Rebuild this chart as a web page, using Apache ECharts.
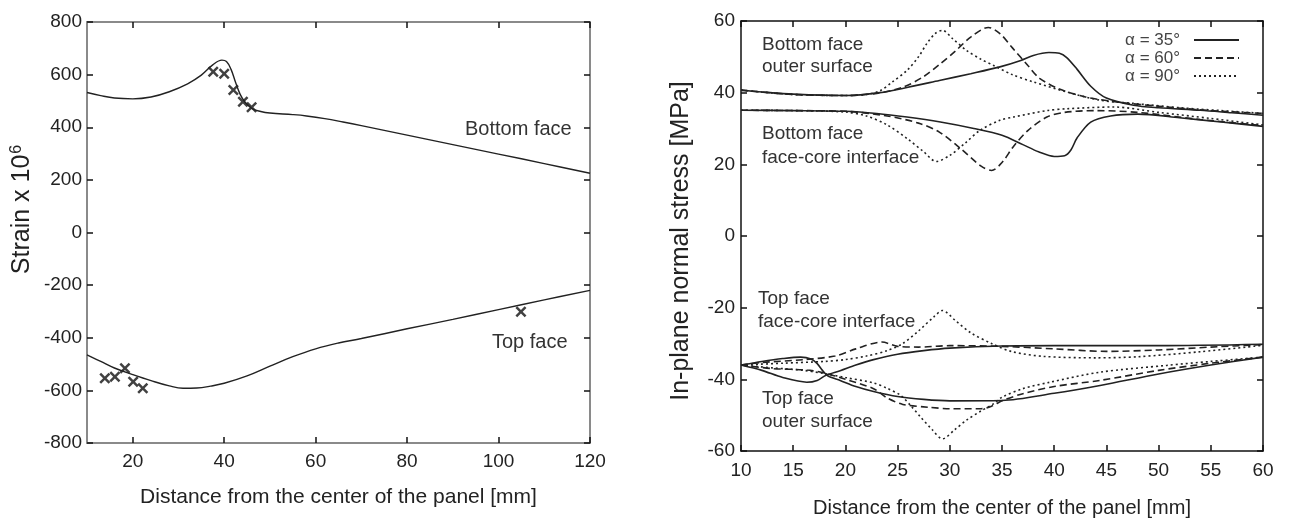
<!DOCTYPE html>
<html>
<head>
<meta charset="utf-8">
<script src="https://cdn.jsdelivr.net/npm/echarts@6/dist/echarts.min.js"></script>
<style>
  html, body { margin: 0; padding: 0; background: #fff; }
  #chart { width: 1293px; height: 524px; }
</style>
</head>
<body>
<div id="chart"></div>
<script>
// ---- left panel: strain ----
var leftXTicks = [20, 40, 60, 80, 100, 120];
var strainBottom = [[10,532],[13,520],[16,511],[20,508],[24,515],[28,535],[32,565],[35,598],[37.5,637],[39.5,655],[40.5,650],[41.5,620],[42.5,570],[43.5,525],[44.5,497],[46,472],[48,460],[50,454],[55,448],[58,443],[62,433],[66,420],[70,406],[80,370],[90,334],[100,298],[110,262],[120,225]];
var strainTop = [[10,-465],[13,-490],[16,-515],[20,-540],[24,-563],[28,-583],[31,-592],[34,-591],[37,-584],[40,-573],[45,-545],[50,-508],[55,-472],[60,-442],[65,-420],[70,-403],[80,-366],[90,-330],[100,-293],[110,-256],[120,-220]];
var measBottom = [[37.6,611],[40.0,603],[42.0,542],[44.1,497],[46.0,476]];
var measTop = [[13.9,-554],[16.1,-548],[18.3,-516],[20.1,-567],[22.2,-592],[104.9,-301]];

// ---- right panel: in-plane normal stress ----
var alphaNames = ['α = 35°', 'α = 60°', 'α = 90°'];
// bottom face, outer surface
var botOuter35 = [[10,40.7],[12,40.2],[15,39.6],[20,39.2],[23.3,40],[26,41.5],[29,43.4],[32,45.3],[34.8,47.2],[36.8,49],[38,50.4],[39.5,51.2],[40.5,51],[41.2,49.8],[42.2,46.5],[43.5,41.8],[45,38.5],[47.6,36.5],[50,35.8],[54,35.1],[57,34.4],[60,33.7]];
var botOuter60 = [[10,40.7],[15,39.5],[20,39.2],[23,39.8],[25.5,41.5],[27.5,44.5],[29.1,48.1],[30.5,51.5],[32,55.5],[33.7,58.2],[34.8,56.5],[36,52.5],[37.5,47.5],[38.6,44],[40.5,41],[43,38.8],[46,37.4],[50,36.2],[55,35],[60,34.2]];
var botOuter90 = [[10,40.7],[15,39.5],[20,39.2],[22,39.5],[23.3,40.5],[24.5,43],[25.9,46.2],[27,50],[27.8,53.7],[28.6,56.5],[29.3,57.4],[30.3,55],[31.6,51.8],[33,49.3],[34.2,47.6],[36,45],[38,43],[41.2,40.2],[44.4,37.9],[47.6,37],[52,35.8],[56,35],[60,34.2]];
// bottom face, face-core interface
var botInter35 = [[10,35.1],[15,35],[20,34.8],[23,34.2],[25.9,33.2],[29.1,31.8],[32.3,30],[35,28.1],[37,25.5],[38.5,23.5],[40,22.2],[41,22.4],[41.6,24],[42.2,27.4],[43.5,31.8],[45.4,33.5],[48,34],[52,33],[56,31.8],[60,30.6]];
var botInter60 = [[10,35.1],[15,35],[20,34.8],[24,33.5],[27,31.5],[29,29],[31,24.5],[33,19.5],[34,18.3],[35,20.5],[36.1,25],[37.5,29.5],[39.3,33.2],[41,34.5],[44,35],[48,34.5],[54,32.5],[60,30.8]];
var botInter90 = [[10,35.1],[15,35],[20,34.6],[22,33.5],[24,31],[26,27],[27.5,23.5],[28.7,20.8],[30,22.5],[31.5,26],[32.9,29.5],[34.8,32.3],[36.1,33.2],[39.3,35],[41.2,35.5],[45.7,36],[50,34.5],[55,32.8],[60,31]];
// top face, face-core interface
var topInter35 = [[10,-36],[12,-37.5],[14,-39.5],[16.3,-40.8],[17.3,-40.3],[18.1,-38.9],[19.5,-37.6],[21,-36],[22.7,-34.5],[25,-33],[27.5,-32],[30,-31.3],[35,-30.7],[40,-30.6],[50,-30.6],[60,-30.2]];
var topInter60 = [[10,-36],[12,-35.3],[16,-34.5],[19,-33.5],[21,-31.5],[23.5,-29.6],[25,-30.8],[27,-31],[30,-30.6],[35,-30.8],[40,-31.5],[45,-32.2],[50,-31.8],[55,-31],[60,-30.3]];
var topInter90 = [[10,-36],[14,-35.5],[18,-35],[20,-34.5],[22,-33.5],[24,-32],[25.5,-30],[27,-26.5],[28.5,-22.5],[29.3,-20.8],[30.5,-23.5],[32,-27],[34,-30],[36,-32.3],[39,-33.6],[44,-34],[48,-33.7],[54,-32.3],[60,-30.5]];
// top face, outer surface
var topOuter35 = [[10,-36],[12,-35],[14,-34.2],[15.7,-33.8],[16.7,-34.3],[17.3,-35.6],[17.8,-37.5],[18.3,-39],[19.5,-40.3],[21,-42],[22.7,-43.4],[25,-44.8],[27.5,-45.6],[30,-46],[35,-45.9],[40,-43.9],[44.4,-41.7],[50,-38.5],[55,-36],[60,-33.8]];
var topOuter60 = [[10,-36],[13,-37],[16.3,-37.4],[18.1,-38.3],[20,-40],[22.7,-42.6],[24,-45.2],[25.5,-47],[28,-47.8],[30,-48.2],[33,-48.2],[34,-47.5],[35,-46],[37,-44],[40,-42],[44.4,-40.3],[50,-37.5],[55,-35.5],[60,-33.8]];
var topOuter90 = [[10,-36],[13,-36.8],[16,-37.5],[18,-38.4],[20,-39.5],[22.7,-41],[24,-42.5],[25.3,-44.5],[26.3,-47.5],[27.2,-50.5],[28.3,-54],[29.3,-56.6],[30.5,-54],[31.6,-51.4],[33,-48.8],[34.2,-46.8],[35,-45],[37,-42.6],[39.6,-40.8],[44.4,-38],[50.8,-36.1],[55,-35],[60,-33.8]];

var FONT = "'Liberation Sans', Arial, sans-serif";
var INK = '#222';
// bold "x" used for the measured strains
var crossPath = 'path://M0,1.6L1.6,0L5,3.4L8.4,0L10,1.6L6.6,5L10,8.4L8.4,10L5,6.6L1.6,10L0,8.4L3.4,5Z';

var myChart = echarts.init(document.getElementById('chart'));

function tickStyle(extra) {
  var s = { inside: true, length: 6, lineStyle: { color: '#111', width: 1.5 } };
  for (var k in extra) s[k] = extra[k];
  return s;
}
function labelStyle(extra) {
  var s = { color: INK, fontSize: 19, fontFamily: FONT };
  for (var k in extra) s[k] = extra[k];
  return s;
}

var dashes = ['solid', [7, 4], [2, 3]];
function stressLine(idx, data) {
  return {
    name: alphaNames[idx], type: 'line', xAxisIndex: 2, yAxisIndex: 2,
    data: data, symbol: 'none', smooth: 0.3,
    lineStyle: { color: INK, width: 1.6, type: dashes[idx] },
    itemStyle: { color: INK }
  };
}

var option = {
  animation: false,
  grid: [
    { left: 87, top: 22, width: 503, height: 421 },
    { left: 741, top: 21, width: 522, height: 430 }
  ],
  legend: {
    data: alphaNames,
    orient: 'vertical', align: 'right',
    right: 48, top: 26,
    itemWidth: 45, itemHeight: 10, itemGap: 0,
    itemStyle: { opacity: 0 },
    textStyle: { fontSize: 17, fontFamily: FONT, color: '#444', lineHeight: 18, padding: [0, 9, 0, 0] }
  },
  xAxis: [
    { gridIndex: 0, type: 'value', min: 10, max: 120, position: 'bottom',
      axisLine: { onZero: false, lineStyle: { color: '#8a8a8a', width: 2 } },
      axisTick: tickStyle({ customValues: leftXTicks }),
      axisLabel: labelStyle({ customValues: leftXTicks, margin: 9 }),
      splitLine: { show: false },
      name: 'Distance from the center of the panel [mm]', nameLocation: 'middle', nameGap: 44,
      nameTextStyle: { fontSize: 21, fontFamily: FONT, color: INK } },
    { gridIndex: 0, type: 'value', min: 10, max: 120, position: 'top',
      axisLine: { onZero: false, lineStyle: { color: '#8a8a8a', width: 2 } },
      axisTick: tickStyle({ customValues: leftXTicks }),
      axisLabel: { show: false }, splitLine: { show: false } },
    { gridIndex: 1, type: 'value', min: 10, max: 60, interval: 5, position: 'bottom',
      axisLine: { onZero: false, lineStyle: { color: '#111', width: 1.5 } },
      axisTick: tickStyle({}),
      axisLabel: labelStyle({ margin: 10 }),
      splitLine: { show: false },
      name: 'Distance from the center of the panel [mm]', nameLocation: 'middle', nameGap: 47,
      nameTextStyle: { fontSize: 20, fontFamily: FONT, color: INK } },
    { gridIndex: 1, type: 'value', min: 10, max: 60, interval: 5, position: 'top',
      axisLine: { onZero: false, lineStyle: { color: '#111', width: 1.5 } },
      axisTick: tickStyle({}),
      axisLabel: { show: false }, splitLine: { show: false } }
  ],
  yAxis: [
    { gridIndex: 0, type: 'value', min: -800, max: 800, interval: 200, position: 'left',
      axisLine: { show: true, onZero: false, lineStyle: { color: '#8a8a8a', width: 2 } },
      axisTick: tickStyle({ show: true }),
      axisLabel: labelStyle({ margin: 5 }),
      splitLine: { show: false },
      name: 'Strain x 10{sup|6}', nameLocation: 'middle', nameGap: 52,
      nameTextStyle: { fontSize: 25, fontFamily: FONT, color: INK, padding: [0, 0, 0, 46],
        rich: { sup: { fontSize: 16, fontFamily: FONT, color: INK, verticalAlign: 'top', padding: [0, 0, 10, 1] } } } },
    { gridIndex: 0, type: 'value', min: -800, max: 800, interval: 200, position: 'right',
      axisLine: { show: true, onZero: false, lineStyle: { color: '#8a8a8a', width: 2 } },
      axisTick: tickStyle({ show: true }),
      axisLabel: { show: false }, splitLine: { show: false } },
    { gridIndex: 1, type: 'value', min: -60, max: 60, interval: 20, position: 'left',
      axisLine: { show: true, onZero: false, lineStyle: { color: '#111', width: 1.5 } },
      axisTick: tickStyle({ show: true }),
      axisLabel: labelStyle({ margin: 6 }),
      splitLine: { show: false },
      name: 'In-plane normal stress [MPa]', nameLocation: 'middle', nameGap: 47,
      nameTextStyle: { fontSize: 25, fontFamily: FONT, color: INK, padding: [0, 10, 0, 0] } },
    { gridIndex: 1, type: 'value', min: -60, max: 60, interval: 20, position: 'right',
      axisLine: { show: true, onZero: false, lineStyle: { color: '#111', width: 1.5 } },
      axisTick: tickStyle({ show: true }),
      axisLabel: { show: false }, splitLine: { show: false } }
  ],
  graphic: [
    { type: 'text', left: 465, top: 119, style: { text: 'Bottom face', font: '20px ' + FONT, fill: '#333' } },
    { type: 'text', left: 492, top: 332, style: { text: 'Top face', font: '20px ' + FONT, fill: '#333' } },
    { type: 'text', left: 762, top: 34, style: { text: 'Bottom face\nouter surface', font: '19px ' + FONT, fill: '#333', lineHeight: 22 } },
    { type: 'text', left: 762, top: 122, style: { text: 'Bottom face\nface-core interface', font: '19px ' + FONT, fill: '#333', lineHeight: 24 } },
    { type: 'text', left: 758, top: 287, style: { text: 'Top face\nface-core interface', font: '19px ' + FONT, fill: '#333', lineHeight: 23 } },
    { type: 'text', left: 762, top: 387, style: { text: 'Top face\nouter surface', font: '19px ' + FONT, fill: '#333', lineHeight: 23 } }
  ],
  series: [
    { name: 'bottom', type: 'line', xAxisIndex: 0, yAxisIndex: 0, data: strainBottom,
      symbol: 'none', smooth: 0.4, lineStyle: { color: INK, width: 1.4 } },
    { name: 'top', type: 'line', xAxisIndex: 0, yAxisIndex: 0, data: strainTop,
      symbol: 'none', smooth: 0.4, lineStyle: { color: INK, width: 1.4 } },
    { name: 'meas', type: 'scatter', xAxisIndex: 0, yAxisIndex: 0, data: measBottom.concat(measTop),
      symbol: crossPath, symbolSize: 11, itemStyle: { color: '#111' } },
    stressLine(0, botOuter35), stressLine(1, botOuter60), stressLine(2, botOuter90),
    stressLine(0, botInter35), stressLine(1, botInter60), stressLine(2, botInter90),
    stressLine(0, topInter35), stressLine(1, topInter60), stressLine(2, topInter90),
    stressLine(0, topOuter35), stressLine(1, topOuter60), stressLine(2, topOuter90)
  ]
};

myChart.setOption(option);
window.addEventListener('resize', function () { myChart.resize(); });
</script>
</body>
</html>
